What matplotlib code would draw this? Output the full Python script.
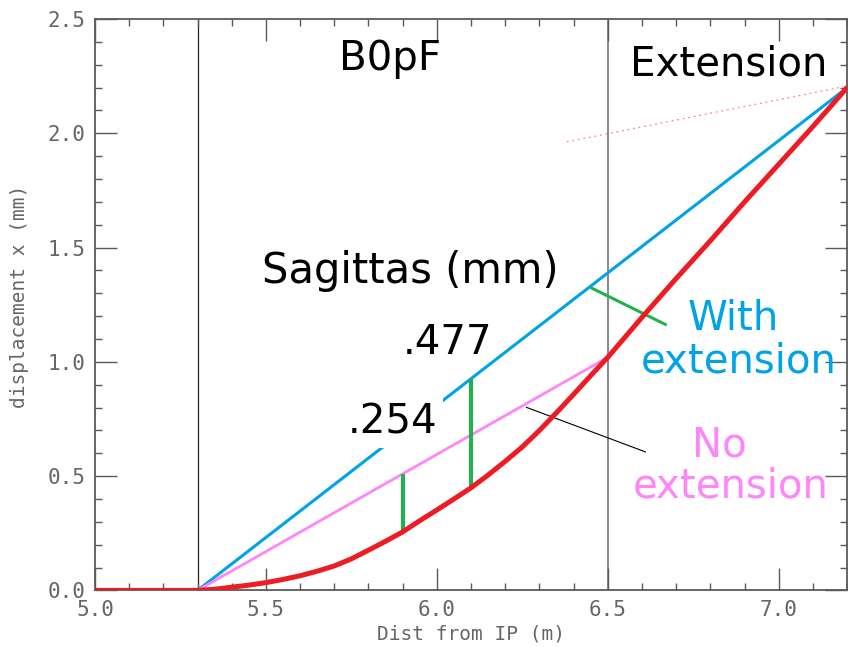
import matplotlib

matplotlib.use("Agg")
import matplotlib.pyplot as plt
from matplotlib.ticker import MultipleLocator

# trajectory through the magnet (red)
dist = [5.0, 5.3, 5.35, 5.4, 5.45, 5.5, 5.55, 5.6, 5.65, 5.7, 5.75, 5.8,
        5.85, 5.9, 5.95, 6.0, 6.05, 6.1, 6.15, 6.2, 6.25, 6.3, 6.35, 6.4,
        6.45, 6.5, 6.6, 6.7, 6.8, 6.9, 7.0, 7.1, 7.2]
disp = [0.0, 0.0, 0.005, 0.014, 0.023, 0.034, 0.048, 0.064, 0.084, 0.107,
        0.138, 0.176, 0.215, 0.256, 0.305, 0.352, 0.400, 0.449, 0.505,
        0.565, 0.628, 0.700, 0.778, 0.858, 0.940, 1.02, 1.195, 1.365, 1.53,
        1.70, 1.865, 2.03, 2.2]

# chords
with_ext_x = [5.3, 7.2]
with_ext_y = [0.0, 2.2]
no_ext_x = [5.3, 6.5]
no_ext_y = [0.0, 1.02]

# sagitta markers
sagitta_x = [5.9, 6.1]
sagitta = [0.254, 0.477]
sagitta_labels = [".254", ".477"]
ext_sag_x = [6.454, 6.668]
ext_sag_y = [1.322, 1.164]

# faint tangent from the end point
tangent_x = [6.38, 7.2]
tangent_y = [1.963, 2.207]

# pointer to the "No extension" chord
pointer_x = [6.262, 6.610]
pointer_y = [0.801, 0.606]

magnet_edges = [5.3, 6.5]

RED = "#ed1c24"
BLUE = "#00a2e8"
PINK = "#ff85f8"
GREEN = "#22b14c"
AXIS_GREY = "#5a5a5a"

fig = plt.figure(figsize=(8.48, 6.47), dpi=100)
ax = fig.add_axes([0.112, 0.0875, 0.887, 0.883])

ax.axvline(magnet_edges[0], color="#222222", lw=0.9, zorder=1)
ax.axvline(magnet_edges[1], color="#808080", lw=1.3, zorder=1)

ax.plot(tangent_x, tangent_y, color="#f48a8a", lw=0.9, ls=(0, (1.5, 3)), zorder=2)
ax.plot(with_ext_x, with_ext_y, color=BLUE, lw=2.2, zorder=3, solid_capstyle="butt")
ax.plot(no_ext_x, no_ext_y, color=PINK, lw=2.0, zorder=3, solid_capstyle="butt")
ax.plot(pointer_x, pointer_y, color="black", lw=0.8, zorder=4)

for sx, s in zip(sagitta_x, sagitta):
    base = disp[dist.index(sx)]
    ax.plot([sx, sx], [base, base + s], color=GREEN, lw=3.0, zorder=4,
            solid_capstyle="butt")
ax.plot(ext_sag_x, ext_sag_y, color=GREEN, lw=2.2, zorder=4)

ax.plot(dist, disp, color=RED, lw=3.6, zorder=5, solid_joinstyle="round")

ax.set_xlim(5.0, 7.2)
ax.set_ylim(0.0, 2.5)
ax.xaxis.set_major_locator(MultipleLocator(0.5))
ax.xaxis.set_minor_locator(MultipleLocator(0.1))
ax.yaxis.set_major_locator(MultipleLocator(0.5))
ax.yaxis.set_minor_locator(MultipleLocator(0.1))
ax.xaxis.set_major_formatter(lambda v, p: f"{v:.1f}")
ax.yaxis.set_major_formatter(lambda v, p: f"{v:.1f}")

mono = "DejaVu Sans Mono"
ax.tick_params(which="both", direction="in", top=True, right=True,
               color=AXIS_GREY, labelcolor="#666666")
ax.tick_params(which="major", length=16, width=1.0, labelsize=15)
ax.tick_params(which="minor", length=5, width=1.0)
ax.tick_params(axis="x", pad=7)
ax.tick_params(axis="y", pad=7)
for lab in ax.get_xticklabels() + ax.get_yticklabels():
    lab.set_family(mono)
for sp in ax.spines.values():
    sp.set_color(AXIS_GREY)
    sp.set_linewidth(1.3)

ax.set_xlabel("Dist from IP (m)", family=mono, fontsize=14, color="#666666",
              labelpad=3)
ax.set_ylabel("displacement x (mm)", family=mono, fontsize=14, color="#666666")
ax.yaxis.set_label_coords(-0.088, 0.515)

big = dict(fontsize=29, ha="center", va="baseline", zorder=6)
ax.text(5.863, 2.277, "B0pF", color="black", **big)
ax.text(6.854, 2.255, "Extension", color="black", **big)
ax.text(5.921, 1.345, "Sagittas (mm)", color="black", **dict(big, fontsize=30))
ax.text(6.032, 1.035, sagitta_labels[1], color="black", **big)
ax.text(5.870, 0.685, sagitta_labels[0], color="black",
        bbox=dict(facecolor="white", edgecolor="none", pad=4), **big)
ax.text(6.868, 1.140, "With", color=BLUE, **big)
ax.text(6.883, 0.952, "extension", color=BLUE, **big)
ax.text(6.827, 0.588, "No", color=PINK, **big)
ax.text(6.860, 0.405, "extension", color=PINK, **big)

fig.savefig("out.png", dpi=100)
